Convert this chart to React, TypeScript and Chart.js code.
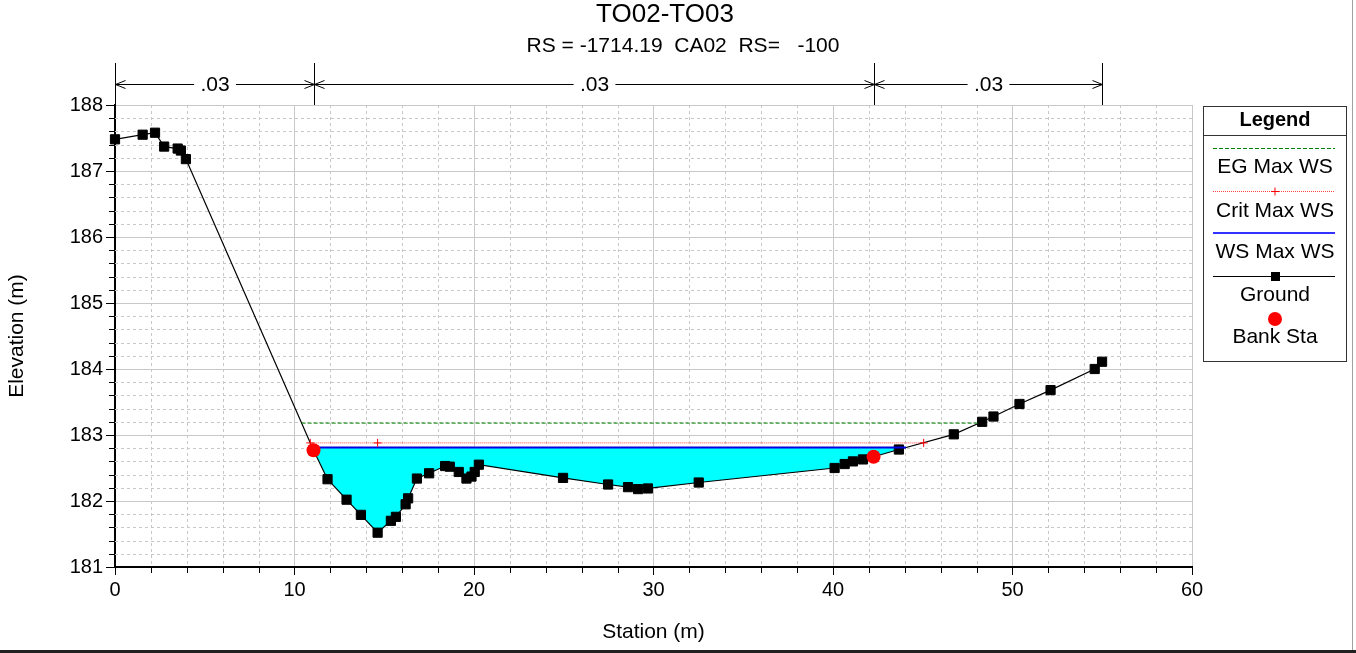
import React, { useEffect, useRef } from 'react';
import { Chart, registerables } from 'chart.js';

Chart.register(...registerables);

const FONT = '"Liberation Sans", Arial, sans-serif';

const titleText = 'TO02-TO03';
const subtitleText = 'RS = -1714.19  CA02  RS=   -100';

const groundStation = [0, 1.54, 2.23, 2.74, 3.49, 3.67, 3.95, 11.06, 11.84, 12.9, 13.7, 14.63, 15.37, 15.65, 16.19, 16.33, 16.82, 17.5, 18.39, 18.65, 19.15, 19.58, 19.86, 20.04, 20.27, 24.96, 27.47, 28.58, 29.14, 29.69, 32.52, 40.09, 40.65, 41.11, 41.67, 42.26, 43.67, 46.73, 48.31, 48.94, 50.39, 52.12, 54.58, 54.99];
const groundElev = [187.48, 187.55, 187.58, 187.37, 187.34, 187.31, 187.18, 182.77, 182.33, 182.02, 181.79, 181.52, 181.7, 181.76, 181.95, 182.04, 182.34, 182.42, 182.53, 182.52, 182.44, 182.34, 182.37, 182.44, 182.55, 182.35, 182.25, 182.21, 182.18, 182.19, 182.28, 182.5, 182.56, 182.6, 182.63, 182.67, 182.78, 183.01, 183.2, 183.28, 183.47, 183.68, 184.0, 184.11];

const bankStation = [11.06, 42.26];
const bankElev = [182.77, 182.67];

const wsElev = 182.81;
const wsStation = [11.06, 44.07];

const critElev = 182.88;
const critStation = [10.88, 14.63, 45.05];

const egElev = 183.18;
const egStation = [10.4, 48.14];

const nStation = [0, 11.06, 42.26, 54.99];
const nValue = ['.03', '.03', '.03'];

const xTicks = { min: 0, max: 60, step: 10, minor: 2 };
const yTicks = { min: 181, max: 188, step: 1, minor: 0.2 };

const legendItems = ['EG Max WS', 'Crit Max WS', 'WS Max WS', 'Ground', 'Bank Sta'];

function pts(xs: number[], ys: number[]) {
  return xs.map((x, i) => ({ x, y: ys[i] }));
}

function text(ctx: CanvasRenderingContext2D, s: string, x: number, y: number, size: number, bold = false, align: CanvasTextAlign = 'center') {
  ctx.font = `${bold ? 'bold ' : ''}${size}px ${FONT}`;
  ctx.textAlign = align;
  ctx.textBaseline = 'middle';
  ctx.fillStyle = '#000';
  ctx.fillText(s, x, y);
}

const decorPlugin = {
  id: 'decor',
  beforeDatasetsDraw(chart: any) {
    const { ctx, chartArea: a, scales } = chart;
    const xs = scales.x;
    const ys = scales.y;
    ctx.save();
    ctx.strokeStyle = '#c8c8c8';
    ctx.lineWidth = 1;
    ctx.setLineDash([3, 3]);
    for (let v = xTicks.min + xTicks.minor; v < xTicks.max - 1e-6; v += xTicks.minor) {
      if (Math.abs(v / xTicks.step - Math.round(v / xTicks.step)) < 1e-6) continue;
      const px = Math.round(xs.getPixelForValue(v)) + 0.5;
      ctx.beginPath();
      ctx.moveTo(px, a.top);
      ctx.lineTo(px, a.bottom);
      ctx.stroke();
    }
    for (let v = yTicks.min + yTicks.minor; v < yTicks.max - 1e-6; v += yTicks.minor) {
      if (Math.abs(v / yTicks.step - Math.round(v / yTicks.step)) < 1e-6) continue;
      const py = Math.round(ys.getPixelForValue(v)) + 0.5;
      ctx.beginPath();
      ctx.moveTo(a.left, py);
      ctx.lineTo(a.right, py);
      ctx.stroke();
    }
    ctx.setLineDash([]);
    ctx.strokeStyle = '#000';
    for (let v = xTicks.min + xTicks.minor; v < xTicks.max - 1e-6; v += xTicks.minor) {
      if (Math.abs(v / xTicks.step - Math.round(v / xTicks.step)) < 1e-6) continue;
      const px = Math.round(xs.getPixelForValue(v)) + 0.5;
      ctx.beginPath();
      ctx.moveTo(px, a.bottom);
      ctx.lineTo(px, a.bottom + 6);
      ctx.stroke();
    }
    for (let v = yTicks.min + yTicks.minor; v < yTicks.max - 1e-6; v += yTicks.minor) {
      if (Math.abs(v / yTicks.step - Math.round(v / yTicks.step)) < 1e-6) continue;
      const py = Math.round(ys.getPixelForValue(v)) + 0.5;
      ctx.beginPath();
      ctx.moveTo(a.left - 6, py);
      ctx.lineTo(a.left, py);
      ctx.stroke();
    }
    ctx.restore();
  },
  afterDraw(chart: any) {
    const { ctx, chartArea: a, scales } = chart;
    const xs = scales.x;
    ctx.save();

    // titles
    text(ctx, titleText, 665, 15, 26);
    text(ctx, subtitleText, 683, 46, 21);

    // Manning's n annotation
    const nTop = 63;
    const arrowY = 84.5;
    ctx.strokeStyle = '#000';
    ctx.lineWidth = 1;
    const nPx = nStation.map((s) => Math.round(xs.getPixelForValue(s)) + 0.5);
    nPx.forEach((px) => {
      ctx.beginPath();
      ctx.moveTo(px, nTop);
      ctx.lineTo(px, a.top);
      ctx.stroke();
    });
    ctx.font = `20px ${FONT}`;
    for (let i = 0; i < nValue.length; i++) {
      const x1 = nPx[i];
      const x2 = nPx[i + 1];
      const cx = (x1 + x2) / 2;
      const w = ctx.measureText(nValue[i]).width;
      ctx.beginPath();
      ctx.moveTo(x1, arrowY);
      ctx.lineTo(cx - w / 2 - 7, arrowY);
      ctx.moveTo(cx + w / 2 + 7, arrowY);
      ctx.lineTo(x2, arrowY);
      ctx.moveTo(x1 + 10, arrowY - 4);
      ctx.lineTo(x1, arrowY);
      ctx.lineTo(x1 + 10, arrowY + 4);
      ctx.moveTo(x2 - 10, arrowY - 4);
      ctx.lineTo(x2, arrowY);
      ctx.lineTo(x2 - 10, arrowY + 4);
      ctx.stroke();
      text(ctx, nValue[i], cx, arrowY + 1, 21);
      ctx.font = `20px ${FONT}`;
    }

    // legend
    const L = 1203.5, R = 1346.5, T = 106.5, B = 361.5;
    const cx = (L + R) / 2;
    ctx.strokeStyle = '#333';
    ctx.lineWidth = 1;
    ctx.strokeRect(L, T, R - L, B - T);
    ctx.beginPath();
    ctx.moveTo(L, 135.5);
    ctx.lineTo(R, 135.5);
    ctx.stroke();
    text(ctx, 'Legend', cx, 120, 20, true);
    const lx1 = 1213, lx2 = 1335;
    // EG
    ctx.strokeStyle = '#008000';
    ctx.setLineDash([4, 2]);
    ctx.beginPath();
    ctx.moveTo(lx1, 148.5);
    ctx.lineTo(lx2, 148.5);
    ctx.stroke();
    // Crit
    ctx.strokeStyle = '#ff4040';
    ctx.setLineDash([1, 1]);
    ctx.beginPath();
    ctx.moveTo(lx1, 191.5);
    ctx.lineTo(lx2, 191.5);
    ctx.stroke();
    ctx.setLineDash([]);
    ctx.strokeStyle = '#ff0000';
    ctx.beginPath();
    ctx.moveTo(cx - 4, 191.5);
    ctx.lineTo(cx + 4, 191.5);
    ctx.moveTo(cx, 187.5);
    ctx.lineTo(cx, 195.5);
    ctx.stroke();
    // WS
    ctx.strokeStyle = '#3333ff';
    ctx.lineWidth = 2;
    ctx.beginPath();
    ctx.moveTo(lx1, 233);
    ctx.lineTo(lx2, 233);
    ctx.stroke();
    // Ground
    ctx.strokeStyle = '#000';
    ctx.lineWidth = 1;
    ctx.beginPath();
    ctx.moveTo(lx1, 276.5);
    ctx.lineTo(lx2, 276.5);
    ctx.stroke();
    ctx.fillStyle = '#000';
    ctx.fillRect(cx - 4, 272, 9, 9);
    // Bank
    ctx.fillStyle = '#ff0000';
    ctx.beginPath();
    ctx.arc(cx, 319, 7, 0, Math.PI * 2);
    ctx.fill();

    const ty = [167, 211, 252, 295, 337];
    legendItems.forEach((s, i) => text(ctx, s, cx, ty[i], 21));

    // frame
    ctx.strokeStyle = '#a0a0a0';
    ctx.lineWidth = 1;
    ctx.beginPath();
    ctx.moveTo(1352.5, 0);
    ctx.lineTo(1352.5, 650);
    ctx.stroke();
    ctx.fillStyle = '#202020';
    ctx.fillRect(0, 650, 1356, 3);
    ctx.restore();
  },
};

export default function App() {
  const ref = useRef<HTMLCanvasElement>(null);

  useEffect(() => {
    if (!ref.current) return;
    const ground = pts(groundStation, groundElev);
    const fillPts = ground.filter((p) => p.x >= wsStation[0] && p.x <= wsStation[1]);
    fillPts.push({ x: wsStation[1], y: wsElev });

    const chart = new Chart(ref.current, {
      type: 'scatter',
      data: {
        datasets: [
          {
            label: 'water',
            data: fillPts,
            showLine: true,
            borderWidth: 0,
            pointRadius: 0,
            backgroundColor: '#00ffff',
            fill: { value: wsElev },
            order: 10,
          },
          {
            label: 'Ground',
            data: ground,
            showLine: true,
            borderColor: '#000',
            borderWidth: 1.2,
            pointStyle: 'rect',
            pointRadius: 6.5,
            pointBackgroundColor: '#000',
            pointBorderColor: '#000',
            pointBorderWidth: 1,
            clip: false,
            order: 5,
          },
          {
            label: 'WS Max WS',
            data: wsStation.map((x) => ({ x, y: wsElev })),
            showLine: true,
            borderColor: '#0000e0',
            borderWidth: 2,
            pointRadius: 0,
            order: 4,
          },
          {
            label: 'Crit Max WS',
            data: critStation.map((x) => ({ x, y: critElev })),
            showLine: true,
            borderColor: '#ff4040',
            borderWidth: 1,
            borderDash: [1, 1],
            pointStyle: 'cross',
            pointRadius: 4,
            pointBorderColor: '#ff0000',
            pointBorderWidth: 1,
            order: 3,
          },
          {
            label: 'EG Max WS',
            data: egStation.map((x) => ({ x, y: egElev })),
            showLine: true,
            borderColor: '#008000',
            borderWidth: 1,
            borderDash: [4, 2],
            pointRadius: 0,
            order: 2,
          },
          {
            label: 'Bank Sta',
            data: pts(bankStation, bankElev),
            showLine: false,
            pointStyle: 'circle',
            pointRadius: 7,
            pointBackgroundColor: '#ff0000',
            pointBorderColor: '#ff0000',
            pointBorderWidth: 0,
            clip: false,
            order: 1,
          },
        ],
      },
      options: {
        responsive: false,
        maintainAspectRatio: false,
        animation: false,
        events: [],
        layout: { padding: { left: 0, top: 105, right: 164, bottom: 0 } },
        plugins: {
          legend: { display: false },
          tooltip: { enabled: false },
          title: { display: false },
        },
        scales: {
          x: {
            type: 'linear',
            min: xTicks.min,
            max: xTicks.max,
            ticks: { stepSize: xTicks.step, color: '#000', font: { size: 20, family: FONT }, padding: 3, maxRotation: 0 },
            grid: { color: '#c8c8c8', lineWidth: 1, tickColor: '#000', tickLength: 8, tickWidth: 1 },
            border: { color: '#000', width: 2 },
            title: { display: true, text: 'Station (m)', color: '#000', font: { size: 21, family: FONT }, padding: { top: 0, bottom: 8 } },
            afterFit: (s: any) => {
              s.height = 86;
            },
          },
          y: {
            type: 'linear',
            min: yTicks.min,
            max: yTicks.max,
            ticks: { stepSize: yTicks.step, color: '#000', font: { size: 20, family: FONT }, padding: 3 },
            grid: { color: '#c8c8c8', lineWidth: 1, tickColor: '#000', tickLength: 9, tickWidth: 1 },
            border: { color: '#000', width: 2 },
            title: { display: true, text: 'Elevation (m)', color: '#000', font: { size: 21, family: FONT }, padding: { top: 5, bottom: 0 } },
            afterFit: (s: any) => {
              s.width = 115;
            },
          },
        },
      },
      plugins: [decorPlugin],
    } as any);
    return () => chart.destroy();
  }, []);

  return (
    <div style={{ position: 'absolute', left: 0, top: 0, width: 1356, height: 653, background: '#fff' }}>
      <canvas ref={ref} width={1356} height={653} style={{ display: 'block' }} />
    </div>
  );
}
